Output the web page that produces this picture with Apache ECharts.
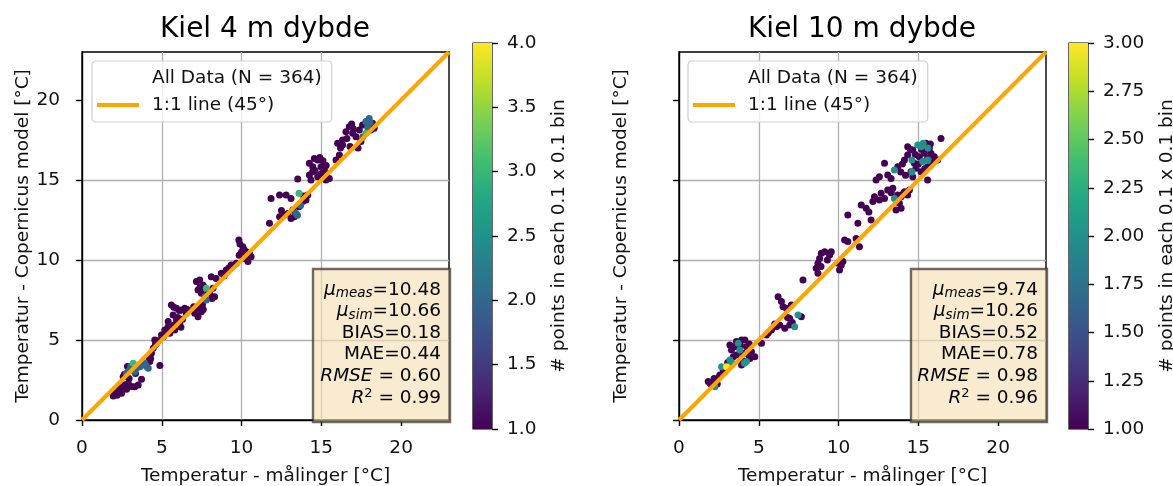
<!DOCTYPE html>
<html><head><meta charset="utf-8">
<script src="https://cdn.jsdelivr.net/npm/echarts@6/dist/echarts.min.js"></script>
<style>html,body{margin:0;padding:0;background:#fff}#c{width:1173px;height:486px}</style>
</head><body><div id="c"></div><script>
// ---------- DATA ----------
const titles = ['Kiel 4 m dybde', 'Kiel 10 m dybde'];
const xAxisTitle = 'Temperatur - målinger [°C]';
const yAxisTitle = 'Temperatur - Copernicus model [°C]';
const cbTitle = '# points in each 0.1 x 0.1 bin';
const legendNames = ['All Data (N = 364)', '1:1 line (45°)'];
const axisTicks = [0, 5, 10, 15, 20];
const oneToOne = [[0, 0], [23, 23]];
const cbRange4 = [1, 4];
const cbRange10 = [1, 3];
// stats: mu_meas, mu_sim, BIAS, MAE, RMSE, R2
const stats4 = ['10.48', '10.66', '0.18', '0.44', '0.60', '0.99'];
const stats10 = ['9.74', '10.26', '0.52', '0.78', '0.98', '0.96'];
// points: [measured, model, count in 0.1x0.1 bin]
const kiel4Points = [
[1.96,1.5,1],[2.05,1.62,1],[2.13,1.71,1],[2.2,1.55,1],[2.33,1.88,1],[2.48,1.67,1],[2.4,2.0,1],[2.58,2.08,1],[2.79,1.92,1],[2.9,2.29,1],[2.7,2.2,1],[3.1,2.1,1],[3.31,2.08,1],[3.52,2.19,1],[3.73,2.54,1],[2.58,2.71,1],[2.65,2.85,1],[2.79,2.92,2],[2.9,3.05,2],[3.0,3.13,2],[3.05,3.35,2],[3.21,3.54,3],[3.15,3.25,2],[3.42,3.23,2],[3.5,3.4,2],[3.63,3.33,2],[3.8,3.45,2],[3.94,3.54,2],[4.05,3.35,2],[4.15,3.23,2],[4.25,3.65,1],[4.35,4.17,1],[4.15,3.96,1],[4.3,3.85,1],[4.88,3.4,1],[4.46,4.48,1],[4.6,4.7,1],[4.67,4.79,1],[2.95,2.6,1],[3.35,2.9,1],[3.3,3.0,2],[2.85,3.35,1],
[4.56,5.0,1],[4.75,4.95,1],[4.98,5.31,1],[5.1,5.2,1],[5.19,5.63,1],[5.3,5.5,1],[5.4,5.83,1],[5.5,5.42,1],[5.81,5.63,1],[5.7,5.9,1],[5.92,6.25,1],[5.6,7.19,1],[5.75,7.05,1],[5.92,6.98,1],[6.1,6.85,1],[6.23,6.88,1],[6.44,6.98,1],[6.54,6.67,1],[6.13,6.04,1],[6.3,6.3,1],[5.71,6.56,1],[5.4,6.15,1],[6.0,6.4,1],[6.2,5.8,1],[6.6,6.9,1],
[7.06,6.67,1],[7.27,6.46,1],[7.48,6.77,1],[7.0,7.08,1],[7.3,7.0,1],[7.6,6.9,1],[7.55,7.2,1],[7.17,8.65,1],[7.38,8.75,1],[7.58,8.44,1],[7.27,8.13,1],[7.48,7.92,1],[7.4,8.3,1],[7.65,8.3,1],[7.79,8.23,3],[8.0,7.92,1],[8.21,8.23,1],[8.31,7.71,1],[7.79,7.5,2],[7.7,7.7,2],[8.1,8.96,1],[8.4,8.85,1],[7.9,8.05,1],[8.15,7.6,1],
[8.73,9.17,1],[8.9,9.0,1],[9.04,9.38,1],[9.2,9.5,1],[9.35,9.69,1],[9.67,9.79,1],[9.83,11.25,1],[9.9,11.0,1],[10.08,10.83,1],[10.0,10.5,1],[10.29,10.52,1],[10.5,10.42,1],[10.19,10.1,1],[10.4,9.9,1],[10.15,10.65,1],[9.85,10.3,1],[10.6,10.2,1],
[11.75,12.29,1],[11.85,13.85,1],[12.38,14.06,1],[12.79,14.06,1],[13.1,13.85,1],[12.38,12.71,1],[12.69,12.81,1],[12.9,12.9,1],[13.21,13.13,1],[13.4,12.92,2],[13.5,12.8,2],[13.3,12.7,1],[13.6,13.33,1],[13.6,14.17,3],[13.83,13.65,1],[14.04,13.75,1],[14.15,14.06,1],[13.52,15.06,1],[13.7,13.4,2],[13.9,14.0,1],[13.1,12.6,1],[12.5,13.1,1],
[14.25,16.04,1],[14.46,15.83,1],[14.56,16.35,1],[14.77,16.25,1],[14.98,15.83,1],[15.19,15.63,1],[14.46,15.52,1],[15.29,15.0,1],[14.77,15.21,1],[14.25,15.31,1],[14.6,15.6,1],[14.9,16.4,1],[15.1,16.2,1],[15.3,15.9,1],[15.5,15.1,1],[14.35,15.0,1],[15.0,15.4,1],
[15.92,16.25,1],[16.13,16.56,1],[16.02,17.29,1],[16.33,17.5,1],[16.54,18.02,1],[16.75,18.33,1],[16.96,17.92,1],[17.17,17.71,1],[17.38,18.13,1],[17.58,18.44,1],[17.79,18.65,2],[18.0,18.85,2],[18.21,18.54,1],[18.1,18.13,1],[17.79,17.92,3],[18.31,18.23,1],[17.48,17.4,1],[16.33,17.19,1],[16.6,17.6,1],[16.8,17.1,1],[17.0,18.2,1],[17.3,17.0,1],[17.9,18.3,2],[18.05,18.6,2],[17.6,17.7,2],[16.2,17.0,1],[16.9,18.5,1]
];
const kiel10Points = [
[1.83,2.4,1],[1.95,2.3,1],[2.04,2.19,1],[2.25,2.08,2],[2.35,2.5,1],[2.2,2.6,1],[2.56,2.81,1],[2.5,2.65,1],[2.77,3.13,1],[2.67,3.33,2],[2.98,3.33,3],[2.85,3.0,1],[3.19,3.75,2],[3.4,3.96,1],[3.29,4.38,1],[3.5,4.58,1],[3.71,4.79,2],[3.92,5.0,1],[4.13,5.0,1],[4.23,4.58,1],[4.02,4.17,1],[4.23,3.65,2],[3.92,3.44,1],[4.44,3.85,1],[4.75,3.96,1],[4.54,4.27,1],[3.81,4.38,2],[3.6,4.06,1],[3.19,4.69,1],[3.6,4.9,1],[3.85,4.65,1],[4.0,3.7,1],[4.35,4.1,1],[3.3,3.6,2],[4.1,3.55,2],[4.4,4.75,1],[2.4,2.25,1],[3.05,3.6,1],
[5.17,4.79,1],[5.48,5.31,1],[5.6,5.45,1],[5.79,5.63,1],[6.1,5.83,1],[6.31,5.94,1],[6.63,5.73,1],[6.94,5.94,1],[7.25,5.83,2],[7.46,6.56,2],[7.67,6.46,1],[6.94,6.35,1],[6.52,7.08,1],[6.21,7.71,1],[6.42,7.4,1],[6.73,6.98,1],[7.04,7.19,1],[7.77,8.75,1],[6.8,6.4,1],[6.0,6.0,1],[7.1,6.1,1],
[8.6,9.48,1],[8.71,9.79,1],[8.81,10.1,1],[8.92,10.42,1],[9.13,10.52,1],[9.44,10.31,1],[9.54,10.52,1],[9.96,9.79,1],[10.17,9.69,1],[10.06,9.38,1],[10.27,9.9,1],[8.71,9.17,1],[8.9,9.6,1],[9.3,10.0,1],
[10.38,11.25,1],[10.58,11.15,1],[11.1,11.35,1],[11.31,10.83,1],[10.58,12.81,1],[11.21,12.29,1],[11.42,13.44,1],[11.73,13.23,1],[12.04,12.5,1],[12.15,13.65,1],[12.25,13.96,1],[12.56,13.75,1],[12.88,13.85,1],[12.67,14.17,1],[11.9,13.0,1],
[12.35,15.0,1],[12.56,15.21,1],[12.88,16.04,1],[13.08,15.31,1],[13.29,15.1,1],[13.08,14.38,1],[13.4,14.48,1],[13.5,13.85,2],[13.71,14.06,1],[13.92,13.96,1],[14.13,14.27,1],[14.33,14.06,1],[14.44,14.38,1],[13.81,13.54,1],[13.6,13.13,1],[13.92,13.23,1],[13.5,15.63,2],[13.71,15.83,1],[14.13,16.25,1],[14.33,16.56,1],[14.54,15.52,1],[14.65,15.21,1],[14.75,16.04,1],[14.0,14.1,1],[13.3,14.2,1],[14.2,15.3,1],[14.0,16.0,1],[13.9,15.5,1],
[14.33,17.08,1],[14.65,16.88,1],[14.96,17.19,2],[15.17,17.08,2],[15.48,17.29,1],[15.69,16.98,1],[15.79,16.67,1],[15.58,16.35,1],[15.27,16.15,2],[15.06,16.46,1],[16.0,16.46,1],[16.21,16.25,1],[16.42,17.6,1],[15.17,15.52,1],[15.58,15.0,1],[14.85,15.73,1],[15.38,16.67,1],[15.58,15.83,1],[15.3,17.3,2],[15.6,17.0,2],[14.8,16.6,1],[15.0,16.0,1],[15.9,16.1,1],[15.4,15.7,1],[14.5,16.9,1],[15.2,16.9,1],[15.75,17.25,1],[14.6,15.5,2],[14.6,16.25,2],[15.6,16.25,2]
];
// ---------- STYLE ----------
const FONT = 'DejaVu Sans';
const TXT = '#111';
const viridis = ['#440154','#482475','#414487','#355f8d','#2a788e','#21918c','#22a884','#44bf70','#7ad151','#bddf26','#fde725'];
const sortByCount = pts => pts.slice().sort((a, b) => a[2] - b[2]);

const chart = echarts.init(document.getElementById('c'), null, {renderer: 'canvas'});

function mainGrid(left) { return {left: left, top: 52, width: 367, height: 368, outerBoundsMode: 'none', containLabel: false, show: true, borderColor: '#000', borderWidth: 1.4, backgroundColor: 'transparent'}; }
function xAx(gi) {
  return {type: 'value', gridIndex: gi, min: 0, max: 23, interval: 5,
    name: xAxisTitle, nameLocation: 'middle', nameGap: 47,
    nameTextStyle: {fontFamily: FONT, fontSize: 18.5, color: TXT},
    axisLine: {show: true, onZero: false, lineStyle: {color: '#000', width: 1.4}},
    axisTick: {show: true, length: 6, lineStyle: {color: '#000', width: 1.4}, customValues: axisTicks},
    axisLabel: {fontFamily: FONT, fontSize: 18.5, color: TXT, margin: 19, customValues: axisTicks},
    splitLine: {show: true, showMinLine: false, showMaxLine: false, lineStyle: {color: '#b0b0b0', width: 1.3}}};
}
function yAx(gi, showLabels) {
  return {type: 'value', gridIndex: gi, min: 0, max: 23, interval: 5,
    name: yAxisTitle, nameLocation: 'middle', nameGap: 48,
    nameTextStyle: {fontFamily: FONT, fontSize: 18.5, color: TXT},
    axisLine: {show: true, onZero: false, lineStyle: {color: '#000', width: 1.4}},
    axisTick: {show: true, length: 6, lineStyle: {color: '#000', width: 1.4}, customValues: axisTicks},
    axisLabel: {show: showLabels, fontFamily: FONT, fontSize: 18.5, color: TXT, margin: 22, customValues: axisTicks},
    splitLine: {show: true, showMinLine: false, showMaxLine: false, lineStyle: {color: '#b0b0b0', width: 1.3}}};
}
function cbGrid(left) { return {left: left, top: 43, width: 19, height: 386, outerBoundsMode: 'none', containLabel: false, show: true, borderColor: '#000', borderWidth: 1.2}; }
function cbX(gi) { return {type: 'category', gridIndex: gi, data: ['cb'], show: false}; }
function cbY(gi, range, interval, digits, gap) {
  return {type: 'value', gridIndex: gi, position: 'right', min: range[0], max: range[1], interval: interval,
    name: cbTitle, nameLocation: 'middle', nameGap: gap,
    nameTextStyle: {fontFamily: FONT, fontSize: 18.5, color: TXT},
    axisLine: {show: false},
    axisTick: {show: true, length: 6, lineStyle: {color: '#000', width: 1.4}},
    axisLabel: {fontFamily: FONT, fontSize: 18.5, color: TXT, margin: 15, formatter: v => v.toFixed(digits)},
    splitLine: {show: false}};
}
const gradient = {type: 'linear', x: 0, y: 0, x2: 0, y2: 1,
  colorStops: viridis.slice().reverse().map((c, i) => ({offset: i / (viridis.length - 1), color: c}))};

function scatter(gi, pts) {
  return {type: 'scatter', name: legendNames[0], xAxisIndex: gi, yAxisIndex: gi, data: sortByCount(pts),
    symbolSize: 7, itemStyle: {opacity: 1}, z: 2, silent: true};
}
function line(gi) {
  return {type: 'line', name: legendNames[1], xAxisIndex: gi, yAxisIndex: gi, data: oneToOne,
    showSymbol: false, symbol: 'none', color: '#ffa500', lineStyle: {color: '#ffa500', width: 4}, z: 3, silent: true};
}
function cbBar(gi, top) {
  return {type: 'bar', xAxisIndex: gi, yAxisIndex: gi, data: [top], barWidth: '100%', clip: true,
    itemStyle: {color: gradient}, silent: true, z: 1};
}
function legend(left) {
  return {left: left, top: 61, orient: 'vertical', selectedMode: false,
    data: [{name: legendNames[0], icon: 'none'}, {name: legendNames[1], icon: 'rect'}],
    itemWidth: 42, itemHeight: 4, itemGap: 5,
    textStyle: {fontFamily: FONT, fontSize: 18.5, color: TXT, lineHeight: 22, padding: [0, 0, 0, 8]},
    backgroundColor: 'rgba(255,255,255,0.8)', borderColor: '#cfcfcf', borderWidth: 1.2, borderRadius: 4,
    padding: [6, 10, 6, 5]};
}
const richStyles = {
  n: {fontFamily: FONT, fontSize: 18.5, lineHeight: 21.6, color: '#111', align: 'right'},
  mi: {fontFamily: FONT, fontSize: 18.5, lineHeight: 21.6, fontStyle: 'italic', color: '#111', align: 'right'},
  sub: {fontFamily: FONT, fontSize: 13.5, lineHeight: 12, fontStyle: 'italic', verticalAlign: 'bottom', color: '#111', align: 'right'},
  sup: {fontFamily: FONT, fontSize: 13, lineHeight: 13, verticalAlign: 'top', color: '#111', align: 'right'}
};
function statsText(s) {
  return ['{mi|μ}{sub|meas}{n|=' + s[0] + '}',
          '{mi|μ}{sub|sim}{n|=' + s[1] + '}',
          '{n|BIAS=' + s[2] + '}',
          '{n|MAE=' + s[3] + '}',
          '{mi|RMSE}{n| = ' + s[4] + '}',
          '{mi|R}{sup|2}{n| = ' + s[5] + '}'].join('\n');
}
function statsBox(x0, x1, s) {
  return [
    {type: 'rect', shape: {x: x0, y: 269, width: x1 - x0, height: 153},
     style: {fill: 'rgba(245,222,179,0.62)', stroke: 'rgba(60,50,40,0.72)', lineWidth: 2.4}, z: 100},
    {type: 'text', x: x1 - 9, y: 279, z: 101,
     style: {text: statsText(s), rich: richStyles, align: 'right', verticalAlign: 'top', fontFamily: FONT, fontSize: 18.5}}
  ];
}

chart.setOption({
  animation: false,
  backgroundColor: '#fff',
  title: [
    {text: titles[0], left: 160, top: 16, padding: 0, textStyle: {fontFamily: FONT, fontSize: 28, fontWeight: 'normal', color: '#000'}},
    {text: titles[1], left: 748, top: 16, padding: 0, textStyle: {fontFamily: FONT, fontSize: 28, fontWeight: 'normal', color: '#000'}}
  ],
  grid: [mainGrid(82), mainGrid(679), cbGrid(473), cbGrid(1069)],
  xAxis: [xAx(0), xAx(1), cbX(2), cbX(3)],
  yAxis: [yAx(0, true), yAx(1, false), cbY(2, cbRange4, 0.5, 1, 58), cbY(3, cbRange10, 0.25, 2, 70)],
  visualMap: [
    {type: 'continuous', show: false, seriesIndex: 0, dimension: 2, min: cbRange4[0], max: cbRange4[1], inRange: {color: viridis}},
    {type: 'continuous', show: false, seriesIndex: 2, dimension: 2, min: cbRange10[0], max: cbRange10[1], inRange: {color: viridis}}
  ],
  legend: [legend(92), legend(688)],
  series: [scatter(0, kiel4Points), line(0), scatter(1, kiel10Points), line(1), cbBar(2, cbRange4[1]), cbBar(3, cbRange10[1])],
  graphic: [].concat(statsBox(313, 450, stats4), statsBox(911, 1047, stats10))
});
</script></body></html>
